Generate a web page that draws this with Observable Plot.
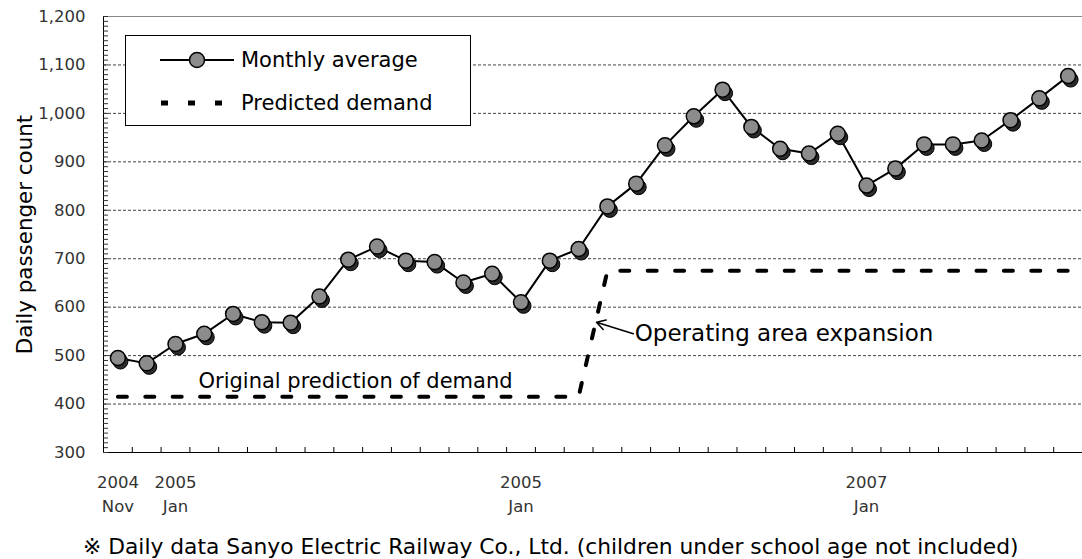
<!DOCTYPE html>
<html>
<head>
<meta charset="utf-8">
<script src="https://cdn.jsdelivr.net/npm/d3@7"></script>
<script src="https://cdn.jsdelivr.net/npm/@observablehq/plot@0.6"></script>
<style>
  body { margin: 0; background: #fff; }
  #wrap { position: relative; width: 1082px; height: 559px; overflow: hidden; font-family: "DejaVu Sans", sans-serif; }
  #legend { position: absolute; left: 125px; top: 35px; width: 346px; height: 91px; border: 1px solid #000; background: #fff; box-sizing: border-box; }
  #legend svg { position: absolute; left: -1px; top: -1px; }
  #caption { position: absolute; left: 83px; top: 528px; height: 38px; line-height: 38px; font-size: 21.8px; color: #000; white-space: nowrap; font-family: "DejaVu Sans", "Noto Sans CJK JP", sans-serif; }
</style>
</head>
<body>
<div id="wrap">
  <div id="chart"></div>
  <div id="legend"></div>
  <div id="caption"></div>
</div>
<script>
// ---- data ----
const months = ["2004-11","2004-12","2005-01","2005-02","2005-03","2005-04","2005-05","2005-06","2005-07","2005-08","2005-09","2005-10","2005-11","2005-12",
  "2006-01","2006-02","2006-03","2006-04","2006-05","2006-06","2006-07","2006-08","2006-09","2006-10","2006-11","2006-12",
  "2007-01","2007-02","2007-03","2007-04","2007-05","2007-06","2007-07","2007-08"];
const monthlyAverage = [495,484,524,545,586,569,568,622,698,725,696,693,651,669,
  610,696,720,808,855,934,994,1049,972,927,917,958,
  851,886,936,936,944,986,1031,1077];
const predictedMonthIndex = [0, 16, 17, 33];
const predictedDemand = [415, 415, 675, 675];
const xTickIndex = [0, 2, 14, 26];
const xTickLabels = ["2004\nNov", "2005\nJan", "2005\nJan", "2007\nJan"];
const yTicks = [300,400,500,600,700,800,900,1000,1100,1200];
const gridValues = [400,500,600,700,800,900,1000,1100];
const annotationText = ["Original prediction of demand", "Operating area expansion"];
const annotationIndex = [2.8, 17.95];
const annotationValue = [448, 545];
const annotationSize = [21, 23];
const arrowFrom = {i: 17.9, v: 545};
const arrowTo = {i: 16.62, v: 569};
const yLabel = "Daily passenger count";
const legendLabels = ["Monthly average", "Predicted demand"];
const captionText = "※ Daily data Sanyo Electric Railway Co., Ltd. (children under school age not included)";

// ---- tables ----
const table = months.map((m, i) => ({i, m, v: monthlyAverage[i]}));
const predTable = predictedMonthIndex.map((i, k) => ({i, v: predictedDemand[k]}));
const boundaries = d3.range(-0.5, months.length, 1);
const minorY = d3.range(300, 1201, 10);
const labelMap = new Map(xTickIndex.map((i, k) => [i, xTickLabels[k]]));
const annots = annotationText.map((t, k) => ({t, i: annotationIndex[k], v: annotationValue[k], s: annotationSize[k]}));

const chart = Plot.plot({
  width: 1082,
  height: 528,
  marginLeft: 103,
  marginRight: 0,
  marginTop: 16,
  marginBottom: 76,
  style: {fontFamily: "DejaVu Sans, sans-serif", background: "#fff"},
  x: {domain: [-0.5, months.length - 0.5]},
  y: {domain: [300, 1200]},
  marks: [
    Plot.gridY(gridValues, {stroke: "#444", strokeOpacity: 1, strokeDasharray: "3,2"}),
    Plot.ruleY([1200], {stroke: "#888"}),
    Plot.ruleY([300], {stroke: "#000"}),
    Plot.ruleX([-0.5], {stroke: "#000"}),
    Plot.axisY(minorY, {anchor: "left", tickSize: 5, dx: 5, tickFormat: () => "", stroke: "#333", label: null}),
    Plot.axisY(yTicks, {anchor: "left", tickSize: 0, tickPadding: 18, tickFormat: d3.format(","), fontSize: 16.5, fill: "#333", label: null}),
    Plot.axisX(boundaries, {anchor: "bottom", tickSize: 5, dy: -5, tickFormat: () => "", stroke: "#000", label: null}),
    Plot.axisX(xTickIndex, {anchor: "bottom", tickSize: 0, tickPadding: 19, tickFormat: d => labelMap.get(d), fontSize: 16.5, lineHeight: 1.45, fill: "#333", label: null}),
    Plot.text([yLabel], {frameAnchor: "left", rotate: -90, dx: -78, textAnchor: "middle", text: d => d, fontSize: 21.4, fill: "#000"}),
    Plot.line(predTable, {x: "i", y: "v", stroke: "#000", strokeWidth: 4, strokeDasharray: "9,18.4"}),
    Plot.line(table, {x: "i", y: "v", stroke: "#000", strokeWidth: 2}),
    Plot.dot(table, {x: "i", y: "v", r: 7.5, fill: "#2b2b2b", stroke: "#000", strokeWidth: 1, dx: 2.5, dy: 3.5}),
    Plot.dot(table, {x: "i", y: "v", r: 7.5, fill: "#8c8c8c", stroke: "#000", strokeWidth: 1.5}),
    Plot.text(annots.slice(0, 1), {x: "i", y: "v", text: "t", textAnchor: "start", fontSize: annotationSize[0], fill: "#000"}),
    Plot.text(annots.slice(1), {x: "i", y: "v", text: "t", textAnchor: "start", fontSize: annotationSize[1], fill: "#000"}),
    Plot.arrow([0], {x1: () => arrowFrom.i, y1: () => arrowFrom.v, x2: () => arrowTo.i, y2: () => arrowTo.v, stroke: "#000", strokeWidth: 1.5, headLength: 10})
  ]
});
document.getElementById("chart").appendChild(chart);

// ---- legend ----
const lg = d3.select("#legend").append("svg").attr("width", 346).attr("height", 91);
lg.append("line").attr("x1", 35).attr("x2", 109).attr("y1", 25).attr("y2", 25).attr("stroke", "#000").attr("stroke-width", 2);
lg.append("circle").attr("cx", 72).attr("cy", 25).attr("r", 7.5).attr("fill", "#8c8c8c").attr("stroke", "#000").attr("stroke-width", 1.5);
lg.append("line").attr("x1", 36).attr("x2", 100).attr("y1", 68).attr("y2", 68).attr("stroke", "#000").attr("stroke-width", 5).attr("stroke-dasharray", "7,20");
lg.selectAll("text.l").data(legendLabels).join("text")
  .attr("x", 116).attr("y", (d, k) => k === 0 ? 25 : 68)
  .attr("dy", "0.35em").attr("font-size", 21).attr("font-family", "DejaVu Sans").text(d => d);

document.getElementById("caption").textContent = captionText;
</script>
</body>
</html>
